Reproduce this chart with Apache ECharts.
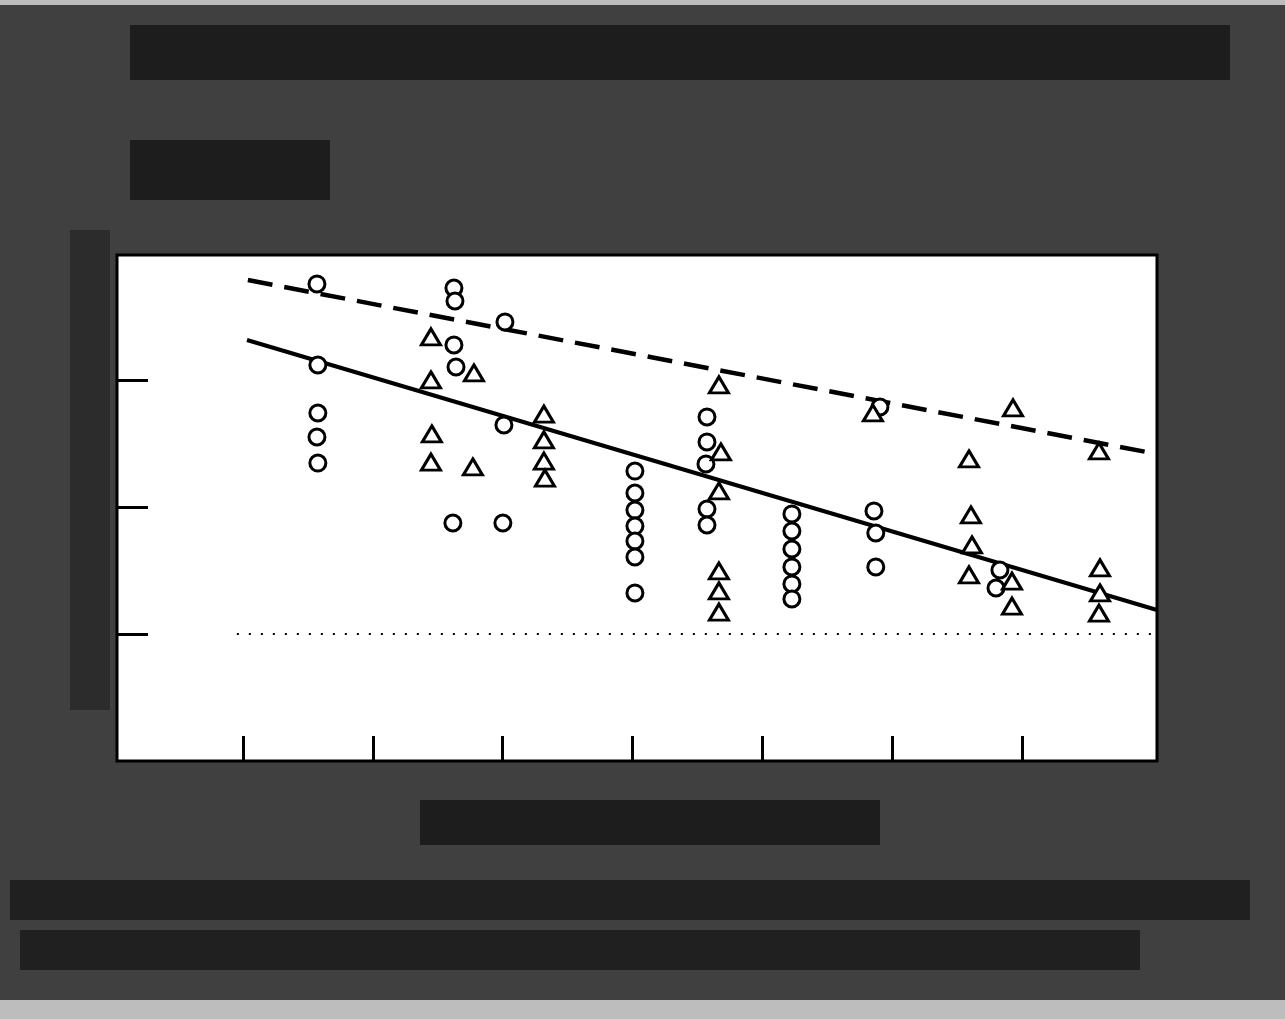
<!DOCTYPE html>
<html>
<head>
<meta charset="utf-8">
<script src="https://cdn.jsdelivr.net/npm/echarts@6/dist/echarts.min.js"></script>
<style>
html,body{margin:0;padding:0;background:#404040;}
#chart{width:1285px;height:1019px;}
</style>
</head>
<body>
<div id="chart"></div>
<script>
// Circles (group A) [x, y]
const circlePoints = [
  [1.570,3.756],[1.577,3.118],[1.577,2.740],[1.570,2.551],[1.577,2.346],
  [2.625,3.724],[2.633,3.622],[2.625,3.276],[2.641,3.102],[2.617,1.874],
  [3.002,1.874],[3.018,3.457],[3.010,2.646],
  [4.019,2.283],[4.019,2.110],[4.019,1.976],[4.019,1.850],[4.019,1.732],[4.019,1.606],[4.019,1.323],
  [4.574,2.709],[4.574,2.512],[4.566,2.339],[4.574,1.984],[4.574,1.858],
  [5.228,1.945],[5.228,1.811],[5.228,1.669],[5.228,1.528],[5.228,1.394],[5.228,1.276],
  [5.906,2.787],[5.860,1.969],[5.874,1.795],[5.874,1.528],
  [6.830,1.504],[6.800,1.362]
];
// Triangles (group B) [x, y]
const trianglePoints = [
  [2.448,3.339],[2.448,3.000],[2.455,2.575],[2.448,2.354],
  [2.771,2.315],[2.779,3.055],
  [3.318,2.732],[3.318,2.528],[3.318,2.362],[3.326,2.228],
  [4.666,2.961],[4.681,2.433],[4.666,2.126],[4.666,1.496],[4.666,1.339],[4.666,1.173],
  [5.852,2.740],
  [6.592,2.378],[6.607,1.937],[6.615,1.701],[6.592,1.465],
  [6.931,2.780],[6.923,1.417],[6.923,1.220],
  [7.593,2.441],[7.601,1.520],[7.601,1.323],[7.593,1.165]
];
// Fitted lines
const solidFit = [[1.031,3.315],[8.04,1.189]];
const dashedFit = [[1.038,3.787],[8.04,2.417]];
const referenceLine = [[0.953,1.0],[8.04,1.0]];
// Tick positions
const xTicks = [1,2,3,4,5,6,7];
const yTicks = [1,2,3];

const chart = echarts.init(document.getElementById('chart'), null, {renderer:'canvas'});
chart.setOption({
  backgroundColor: '#404040',
  animation: false,
  graphic: [
    {type:'rect', shape:{x:130,y:25,width:1100,height:55}, style:{fill:'#000', opacity:0.55}, z:-1},
    {type:'rect', shape:{x:130,y:140,width:200,height:60}, style:{fill:'#000', opacity:0.55}, z:-1},
    {type:'rect', shape:{x:70,y:230,width:40,height:480}, style:{fill:'#000', opacity:0.3}, z:-1},
    {type:'rect', shape:{x:420,y:800,width:460,height:45}, style:{fill:'#000', opacity:0.55}, z:-1},
    {type:'rect', shape:{x:10,y:880,width:1240,height:40}, style:{fill:'#000', opacity:0.5}, z:-1},
    {type:'rect', shape:{x:20,y:930,width:1120,height:40}, style:{fill:'#000', opacity:0.5}, z:-1},
    {type:'rect', shape:{x:0,y:1000,width:1285,height:19}, style:{fill:'#bdbdbd'}, z:-1},
    {type:'rect', shape:{x:0,y:0,width:1285,height:5}, style:{fill:'#bdbdbd'}, z:-1}
  ],
  grid: {
    left: 117, top: 255, width: 1040, height: 506,
    show: true, backgroundColor: '#ffffff', borderColor: '#000', borderWidth: 3
  },
  xAxis: {
    type: 'value', min: 0.03, max: 8.04,
    axisLine: {show: false},
    splitLine: {show: false},
    axisLabel: {show: false},
    axisTick: {show: true, inside: true, length: 25, customValues: xTicks,
      lineStyle: {color: '#000', width: 3}}
  },
  yAxis: {
    type: 'value', min: 0, max: 3.984,
    axisLine: {show: false},
    splitLine: {show: false},
    axisLabel: {show: false},
    axisTick: {show: true, inside: true, length: 31, customValues: yTicks,
      lineStyle: {color: '#000', width: 3}}
  },
  series: [
    {type:'line', data: referenceLine, showSymbol:false, symbol:'none',
      lineStyle:{color:'#000', width:2, type:[2,10]}, z:1},
    {type:'line', data: solidFit, showSymbol:false, symbol:'none',
      lineStyle:{color:'#000', width:4}, z:2},
    {type:'line', data: dashedFit, showSymbol:false, symbol:'none',
      lineStyle:{color:'#000', width:4.5, type:[25,12]}, z:2},
    {type:'scatter', data: circlePoints, symbol:'circle', symbolSize:16,
      itemStyle:{color:'#fff', borderColor:'#000', borderWidth:3, opacity:1}, z:5},
    {type:'scatter', data: trianglePoints, symbol:'triangle', symbolSize:[19,16],
      itemStyle:{color:'#fff', borderColor:'#000', borderWidth:3, opacity:1}, z:5}
  ]
});
</script>
</body>
</html>
